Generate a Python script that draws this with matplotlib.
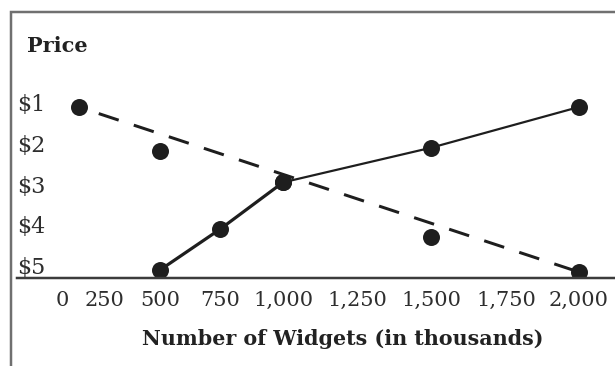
import numpy as np
import matplotlib
matplotlib.use('Agg')
import matplotlib.pyplot as plt
import matplotlib.transforms as mtransforms
from matplotlib.patches import Rectangle

# 横軸の目盛り（千個単位）
quantity_ticks = [0, 250, 500, 750, 1000, 1250, 1500, 1750, 2000]
tick_labels = ['0', '250', '500', '750', '1,000', '1,250', '1,500', '1,750', '2,000']

# 縦軸の価格
price_ticks = [1, 2, 3, 4, 5]
price_labels = ['$1', '$2', '$3', '$4', '$5']

# 実線の系列（供給）
supply_q = [500, 750, 1000, 1500, 2000]
supply_p = [5, 4, 2.85, 2, 1]

# 破線の系列（需要）
demand_q = [100, 500, 1000, 1500, 2000]
demand_p = [1, 2.08, 2.85, 4.18, 5.05]

# 元の図の横軸は等間隔ではないので、区分線形の目盛りで再現する
scale_q = [-1000, 0, 250, 500, 750, 1000, 1250, 1500, 1750, 2000, 3000]
scale_px = [-106, 62, 104, 160, 220, 283, 357, 431, 506, 579, 875]

W, H = 615, 366
INK = '#1e1e1e'


def forward(q):
    return np.interp(q, scale_q, scale_px)


def inverse(x):
    return np.interp(x, scale_px, scale_q)


def px(v):
    # ピクセルをポイントに換算（dpi=100）
    return v * 0.72


def main():
    plt.rcParams['font.family'] = 'DejaVu Serif'
    fig = plt.figure(figsize=(W / 100, H / 100), dpi=100)
    ax = fig.add_axes([17 / W, 88 / H, (W - 17) / W, (278 - 20) / H])

    ax.set_xscale('function', functions=(forward, inverse))
    ax.set_xlim(inverse(17), inverse(W))
    ax.set_ylim(1 + 171 / 40.75, 1 - 87 / 40.75)

    # 実線（下側は太め、上側は細め）
    ax.plot(supply_q[:3], supply_p[:3], color=INK, lw=px(3.2), solid_capstyle='round')
    ax.plot(supply_q[2:], supply_p[2:], color=INK, lw=px(2.2), solid_capstyle='round')
    ax.plot(supply_q, supply_p, 'o', color=INK, ms=px(17), mec='none')

    # 破線は最初と最後の点を結ぶ直線
    ax.plot([demand_q[0], demand_q[-1]], [demand_p[0], demand_p[-1]],
            color=INK, lw=px(3), linestyle=(5.3, (7, 5.3)))
    ax.plot(demand_q, demand_p, 'o', color=INK, ms=px(17), mec='none')

    # 軸の見た目
    for side in ['top', 'right', 'left']:
        ax.spines[side].set_visible(False)
    ax.spines['bottom'].set_color('#3c3c3c')
    ax.spines['bottom'].set_linewidth(px(2.5))
    ax.set_yticks([])
    ax.set_xticks(quantity_ticks)
    ax.set_xticklabels(tick_labels)
    ax.tick_params(axis='x', length=0, pad=9, labelsize=15, labelcolor='#2e2e2e')

    # 価格ラベル（プロット内側の左端）
    trans = mtransforms.blended_transform_factory(ax.transAxes, ax.transData)
    trans = mtransforms.offset_copy(trans, fig=fig, y=1.4, units='points')
    for p, label in zip(price_ticks, price_labels):
        ax.text(0, p, label, transform=trans, ha='left', va='center',
                fontsize=16, color='#2e2e2e')

    fig.text(27 / W, 1 - 46 / H, 'Price', ha='left', va='center',
             fontsize=15, fontweight='bold', color='#222222')
    fig.text(343 / W, 1 - 339 / H, 'Number of Widgets (in thousands)',
             ha='center', va='center', fontsize=14.9, fontweight='bold', color='#222222')

    # 外枠（右と下は画像の外へはみ出す）
    fig.patches.append(Rectangle((11 / W, -0.2), 1.2, 1.2 + (H - 12) / H - 1.0,
                                 transform=fig.transFigure, fill=False,
                                 edgecolor='#707070', lw=px(2.5), clip_on=False))

    fig.savefig('out.png', dpi=100)


if __name__ == '__main__':
    main()
